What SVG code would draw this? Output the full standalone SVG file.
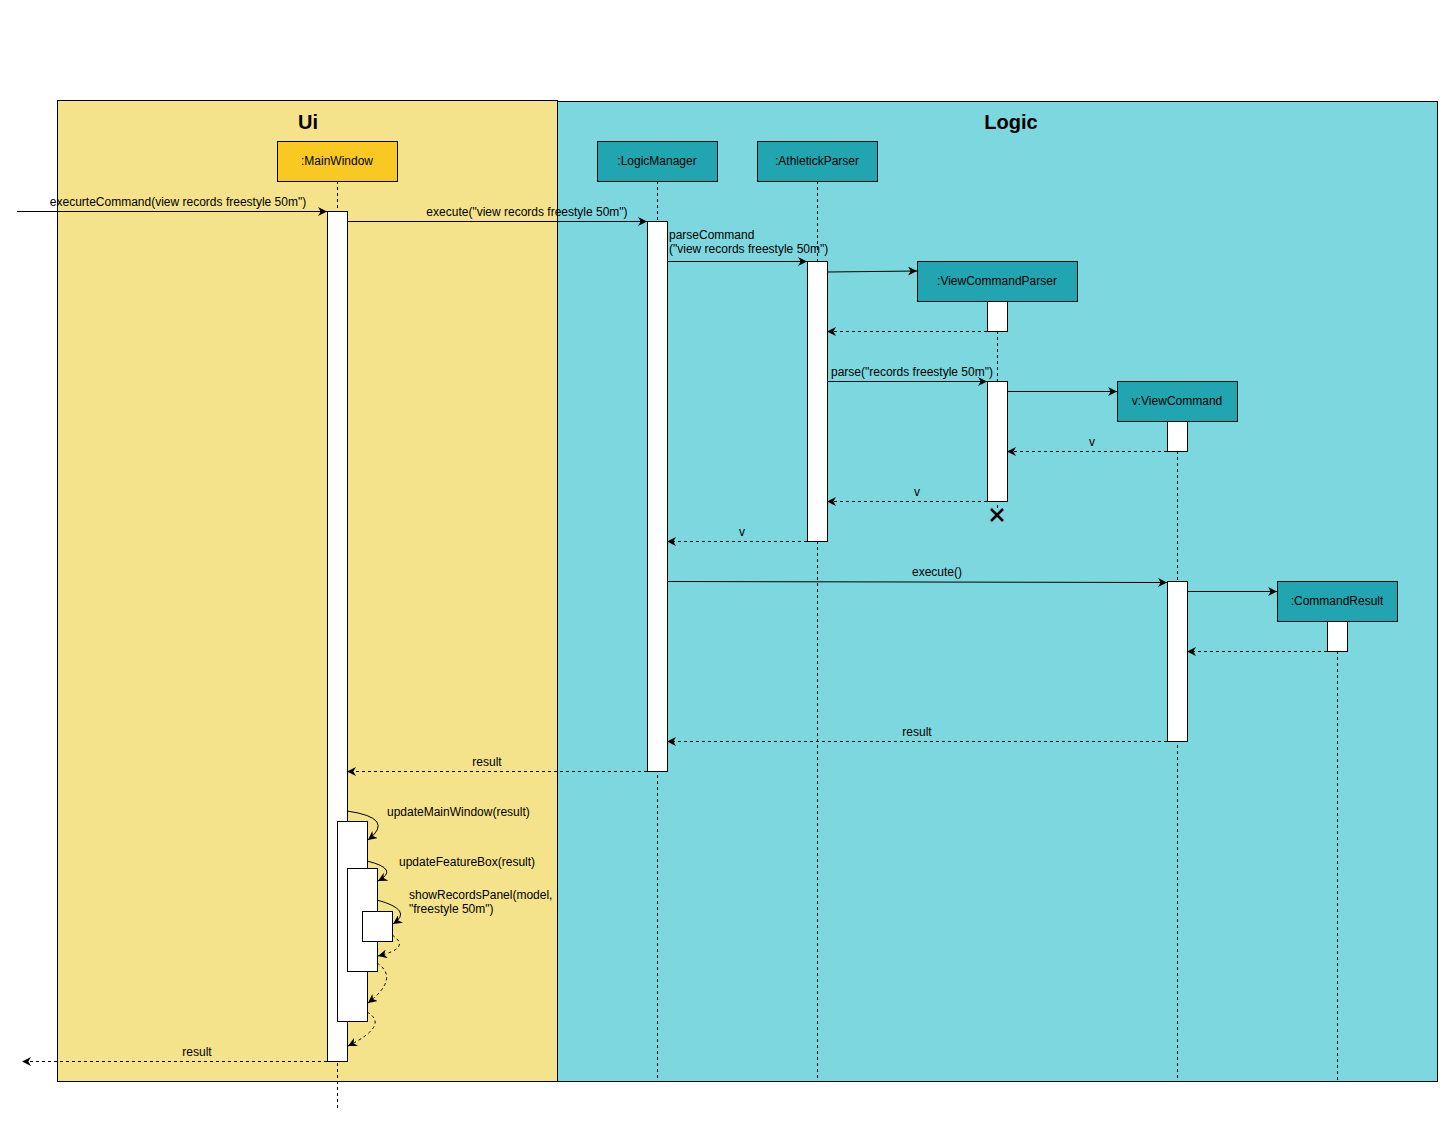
<svg xmlns="http://www.w3.org/2000/svg" width="1448" height="1124" viewBox="0 0 1448 1124">
<style>
  text { font-family: "Liberation Sans", Arial, sans-serif; fill: #000; }
  .title { font-size: 20px; font-weight: bold; text-anchor: middle; }
  .lbl { font-size: 12px; text-anchor: middle; }
  .msg { font-size: 12px; }
  .mid { text-anchor: middle; }
  .ui { fill: #F5E38C; stroke: #000; stroke-width: 1; }
  .logic { fill: #7DD7DF; stroke: #000; stroke-width: 1; }
  .uinode { fill: #F8C923; stroke: #000; stroke-width: 1; }
  .lnode { fill: #21A5B1; stroke: #000; stroke-width: 1; }
  .act { fill: #FFFFFF; stroke: #000; stroke-width: 1; }
  .life { stroke: #000; stroke-width: 1; stroke-dasharray: 3 3; fill: none; }
  .call { stroke: #000; stroke-width: 1; fill: none; marker-end: url(#arr); }
  .ret { stroke: #000; stroke-width: 1; stroke-dasharray: 3 3; fill: none; marker-end: url(#arr); }
</style>
<defs>
  <marker id="arr" viewBox="0 0 10 10" refX="10" refY="5" markerWidth="9" markerHeight="9" markerUnits="userSpaceOnUse" orient="auto">
    <path d="M0,0 L10,5 L0,10 L3,5 z" fill="#000"/>
  </marker>
</defs>
<rect width="1448" height="1124" fill="#FFFFFF"/>

<g id="frame-ui">
  <rect class="ui" x="57.5" y="100.5" width="500" height="981"/>
  <text class="title" x="308" y="129">Ui</text>
</g>
<g id="frame-logic">
  <rect class="logic" x="557.5" y="101.5" width="880" height="980"/>
  <text class="title" x="1011" y="129">Logic</text>
</g>

<g id="lifelines">
  <line class="life" x1="337.5" y1="181" x2="337.5" y2="1111"/>
  <line class="life" x1="657.5" y1="181" x2="657.5" y2="1081"/>
  <line class="life" x1="817.5" y1="181" x2="817.5" y2="1081"/>
  <line class="life" x1="997.5" y1="301" x2="997.5" y2="510"/>
  <line class="life" x1="1177.5" y1="421" x2="1177.5" y2="1081"/>
  <line class="life" x1="1337.5" y1="621" x2="1337.5" y2="1081"/>
</g>

<g id="node-mainwindow">
  <rect class="uinode" x="277.5" y="141.5" width="120" height="40"/>
  <text class="lbl" x="337" y="165">:MainWindow</text>
</g>
<g id="node-logicmanager">
  <rect class="lnode" x="597.5" y="141.5" width="120" height="40"/>
  <text class="lbl" x="657" y="165">:LogicManager</text>
</g>
<g id="node-athletickparser">
  <rect class="lnode" x="757.5" y="141.5" width="120" height="40"/>
  <text class="lbl" x="817" y="165">:AthletickParser</text>
</g>
<g id="node-viewcommandparser">
  <rect class="lnode" x="917.5" y="261.5" width="160" height="40"/>
  <text class="lbl" x="997" y="285">:ViewCommandParser</text>
</g>
<g id="node-viewcommand">
  <rect class="lnode" x="1117.5" y="381.5" width="120" height="40"/>
  <text class="lbl" x="1177" y="405">v:ViewCommand</text>
</g>
<g id="node-commandresult">
  <rect class="lnode" x="1277.5" y="581.5" width="120" height="40"/>
  <text class="lbl" x="1337" y="605">:CommandResult</text>
</g>

<g id="activations">
  <rect class="act" x="327.5" y="211.5" width="20" height="850"/>
  <rect class="act" x="647.5" y="221.5" width="20" height="550"/>
  <rect class="act" x="807.5" y="261.5" width="20" height="280"/>
  <rect class="act" x="987.5" y="301.5" width="20" height="30"/>
  <rect class="act" x="987.5" y="381.5" width="20" height="120"/>
  <rect class="act" x="1167.5" y="421.5" width="20" height="30"/>
  <rect class="act" x="1167.5" y="581.5" width="20" height="160"/>
  <rect class="act" x="1327.5" y="621.5" width="20" height="30"/>
  <rect class="act" x="337.5" y="821.5" width="30" height="200"/>
  <rect class="act" x="347.5" y="868.5" width="30" height="103"/>
  <rect class="act" x="362.5" y="911.5" width="30" height="30"/>
</g>

<g id="destroy">
  <path d="M991,509 L1003,521 M1003,509 L991,521" stroke="#000" stroke-width="2.5" fill="none"/>
</g>

<g id="connectors">
  <line class="call" x1="17" y1="211.5" x2="327" y2="211.5"/>
  <line class="call" x1="347" y1="221.5" x2="647" y2="221.5"/>
  <line class="call" x1="667" y1="261.5" x2="807" y2="261.5"/>
  <line class="call" x1="827" y1="272" x2="917" y2="271"/>
  <line class="ret" x1="987" y1="331.5" x2="827" y2="331.5"/>
  <line class="call" x1="827" y1="381.5" x2="987" y2="381.5"/>
  <line class="call" x1="1007" y1="391.5" x2="1117" y2="391.5"/>
  <line class="ret" x1="1167" y1="451.5" x2="1007" y2="451.5"/>
  <line class="ret" x1="987" y1="501.5" x2="827" y2="501.5"/>
  <line class="ret" x1="807" y1="541.5" x2="667" y2="541.5"/>
  <line class="call" x1="667" y1="581.5" x2="1167" y2="582.5"/>
  <line class="call" x1="1187" y1="591.5" x2="1277" y2="591.5"/>
  <line class="ret" x1="1327" y1="651.5" x2="1187" y2="651.5"/>
  <line class="ret" x1="1167" y1="741.5" x2="667" y2="741.5"/>
  <line class="ret" x1="647" y1="771.5" x2="347" y2="771.5"/>
  <path class="call" d="M347,811 Q396,818 368,840"/>
  <path class="call" d="M367,861 Q400,869 378,881"/>
  <path class="call" d="M377,900 Q414,910 393,924"/>
  <path class="ret" d="M392,935 Q412,948 378,956"/>
  <path class="ret" d="M377,963 Q400,978 368,1003"/>
  <path class="ret" d="M367,1012 Q390,1025 348,1046"/>
  <line class="ret" x1="327" y1="1061.5" x2="22" y2="1061.5"/>
</g>

<g id="labels">
  <text class="msg mid" x="178" y="206">execurteCommand(view records freestyle 50m")</text>
  <text class="msg mid" x="527" y="216">execute("view records freestyle 50m")</text>
  <text class="msg" x="669" y="239">parseCommand</text>
  <text class="msg" x="669" y="253">("view records freestyle 50m")</text>
  <text class="msg" x="831" y="376">parse("records freestyle 50m")</text>
  <text class="msg mid" x="1092" y="446">v</text>
  <text class="msg mid" x="917" y="496">v</text>
  <text class="msg mid" x="742" y="536">v</text>
  <text class="msg mid" x="937" y="576">execute()</text>
  <text class="msg mid" x="917" y="736">result</text>
  <text class="msg mid" x="487" y="766">result</text>
  <text class="msg" x="387" y="816">updateMainWindow(result)</text>
  <text class="msg" x="399" y="866">updateFeatureBox(result)</text>
  <text class="msg" x="409" y="899">showRecordsPanel(model,</text>
  <text class="msg" x="409" y="913">"freestyle 50m")</text>
  <text class="msg mid" x="197" y="1056">result</text>
</g>
</svg>
